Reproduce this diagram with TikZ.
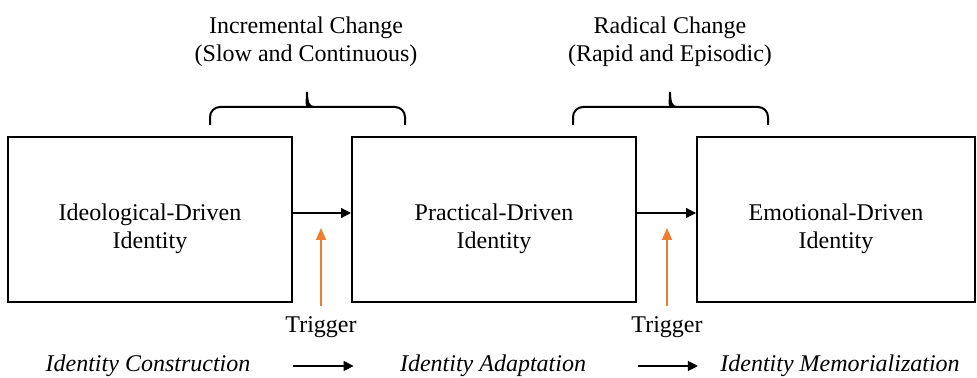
\documentclass[tikz,border=0pt]{standalone}
\usepackage{fontspec}
\setmainfont{Liberation Serif}
\usepackage{tikz}
\usetikzlibrary{arrows.meta}
\definecolor{triggerc}{RGB}{237,125,49}
\tikzset{
  idbox/.style   = {draw=black, line width=1pt, minimum width=142pt, minimum height=82.5pt,
                    align=center, inner sep=0pt, font=\fontsize{12}{14}\selectfont,
                    text height=31.5pt},
  phase/.style   = {align=center, inner sep=0pt, font=\fontsize{12}{14}\selectfont},
  stage/.style   = {inner sep=0pt, font=\fontsize{12}{14}\selectfont\itshape},
  flow/.style    = {-{Triangle[length=5pt,width=5pt]}, line width=0.6pt},
  kick/.style    = {-{Triangle[length=6pt,width=5pt]}, line width=0.8pt, draw=triggerc},
  span/.style    = {line width=1pt, rounded corners=5},
}
\begin{document}
\begin{tikzpicture}[x=0.5pt, y=-0.5pt]
\useasboundingbox (0,0) rectangle (977,378);

% identity types
\node[idbox] (ideo) at (150,219.5) {Ideological-Driven\\Identity};
\node[idbox] (prac) at (494,219.5) {Practical-Driven\\Identity};
\node[idbox, minimum width=139pt] (emot) at (836,219.5) {Emotional-Driven\\Identity};

\draw[flow] ([yshift=3.25pt]ideo.east) -- ([yshift=3.25pt]prac.west);
\draw[flow] ([yshift=3.25pt]prac.east) -- ([yshift=3.25pt]emot.west);

% triggers
\node[phase] (trig1) at (321,327) {Trigger};
\node[phase] (trig2) at (667,327) {Trigger};
\coordinate (hit1) at (321,228);
\coordinate (hit2) at (667,228);
\draw[kick] ([yshift=5pt]trig1.north) -- (hit1);
\draw[kick] ([yshift=5pt]trig2.north) -- (hit2);

% kinds of change
\node[phase] (incr) at (306,42) {Incremental Change\\(Slow and Continuous)};
\node[phase] (radi) at (670,42) {Radical Change\\(Rapid and Episodic)};
\draw[span] (210,125) |- (300,107) [sharp corners]
  .. controls (305,107) and (307,103) .. (307,92)
  .. controls (307,103) and (309,107) .. (314,107) [rounded corners=5] -| (405,125);
\draw[span] (573,125) |- (663,107) [sharp corners]
  .. controls (668,107) and (670,103) .. (670,92)
  .. controls (670,103) and (672,107) .. (677,107) [rounded corners=5] -| (768,125);

% stages
\node[stage] (cons) at (148,366) {Identity Construction};
\node[stage] (adap) at (493,366) {Identity Adaptation};
\node[stage] (memo) at (840,366) {Identity Memorialization};
\draw[flow, shorten <=21pt, shorten >=23pt] (cons.east) -- (adap.west);
\draw[flow, shorten <=26pt, shorten >=11pt] (adap.east) -- (memo.west);

\end{tikzpicture}
\end{document}
